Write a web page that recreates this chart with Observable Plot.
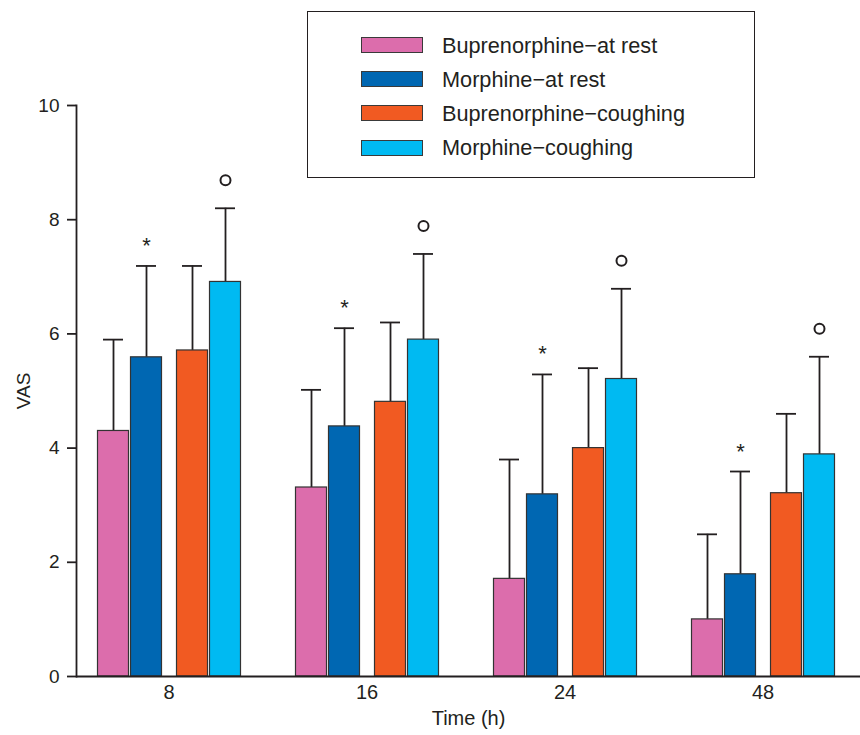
<!DOCTYPE html>
<html>
<head>
<meta charset="utf-8">
<script src="https://cdn.jsdelivr.net/npm/d3@7"></script>
<script src="https://cdn.jsdelivr.net/npm/@observablehq/plot@0.6"></script>
<style>
  body { margin: 0; background: #fff; font-family: "Liberation Sans", Arial, sans-serif; color: #231f20; }
  #wrap { position: relative; width: 860px; height: 735px; }
  #legend { position: absolute; left: 307px; top: 11px; width: 448px; height: 167px; box-sizing: border-box;
            border: 1.6px solid #231f20; background: #fff; }
  .row { position: absolute; left: 53px; height: 17px; display: flex; align-items: center; }
  .sw { width: 62px; height: 16px; box-sizing: border-box; border: 1.2px solid #3a3a3a; }
  .lab { margin-left: 19px; font-size: 21.7px; white-space: nowrap; line-height: 17px; }
</style>
</head>
<body>
<div id="wrap"></div>
<script>
// ---- data ----
const times = ["8", "16", "24", "48"];
const seriesNames = ["Buprenorphine\u2212at rest", "Morphine\u2212at rest", "Buprenorphine\u2212coughing", "Morphine\u2212coughing"];
const bupRestMean  = [4.30, 3.31, 1.71, 1.00];
const bupRestSD    = [1.60, 1.71, 2.09, 1.49];
const morRestMean  = [5.59, 4.38, 3.19, 1.79];
const morRestSD    = [1.60, 1.72, 2.10, 1.80];
const bupCoughMean = [5.71, 4.81, 4.00, 3.21];
const bupCoughSD   = [1.48, 1.39, 1.40, 1.39];
const morCoughMean = [6.91, 5.90, 5.21, 3.89];
const morCoughSD   = [1.29, 1.50, 1.58, 1.71];
const restSignif   = ["*", "*", "*", "*"];   // above Morphine−at rest
const coughSignif  = ["o", "o", "o", "o"];   // above Morphine−coughing
const yTicks = [0, 2, 4, 6, 8, 10];

// ---- styles ----
const colors = ["#DC6DAC", "#0067B2", "#F15A22", "#00BAF2"];
const shift = [-55.5, -22.5, 23.5, 56.5];
const ink = "#231f20";

const means = [bupRestMean, morRestMean, bupCoughMean, morCoughMean];
const sds = [bupRestSD, morRestSD, bupCoughSD, morCoughSD];
const rows = means.map((m, s) => times.map((t, i) => ({
  time: t, series: seriesNames[s], mean: m[i], top: m[i] + sds[s][i],
  star: restSignif[i], ring: coughSignif[i]
})));

const marks = [
  Plot.axisY({ticks: yTicks, tickSize: 9, tickPadding: 8, fontSize: 19, strokeWidth: 1.8, stroke: ink, fill: ink,
              label: "VAS", labelAnchor: "center", labelOffset: 60, labelArrow: "none"}),
  Plot.axisX({tickSize: 0, tickPadding: 8, fontSize: 20, fill: ink,
              label: "Time (h)", labelAnchor: "center", labelOffset: 48, labelArrow: "none"}),
  Plot.frame({anchor: "left", stroke: ink, strokeWidth: 1.8})
];
rows.forEach((r, s) => {
  marks.push(Plot.ruleX(r, {x: "time", y1: "mean", y2: "top", stroke: ink, strokeWidth: 1.8, dx: shift[s]}));
  marks.push(Plot.tickY(r, {x: "time", y: "top", stroke: ink, strokeWidth: 1.8, dx: shift[s], insetLeft: 5.5, insetRight: 5.5}));
  marks.push(Plot.barY(r, {x: "time", y: "mean", fill: colors[s], stroke: "#333", strokeWidth: 1.2, dx: shift[s]}));
});
marks.push(Plot.text(rows[1], {x: "time", y: "top", text: "star", dx: shift[1], dy: -20, fontSize: 22, fill: ink}));
marks.push(Plot.dot(rows[3].filter(d => d.ring === "o"), {x: "time", y: "top", r: 5, stroke: ink, strokeWidth: 2, fill: "white", dx: shift[3], dy: -28}));
marks.push(Plot.ruleY([0], {stroke: ink, strokeWidth: 1.8}));

const chart = Plot.plot({
  width: 860,
  height: 735,
  marginLeft: 76,
  marginRight: 0,
  marginTop: 105,
  marginBottom: 59,
  style: {fontFamily: "Liberation Sans, Arial, sans-serif", fontSize: "19px", color: ink, background: "white", overflow: "visible"},
  x: {domain: times, paddingInner: 0.8437, paddingOuter: 0.3987, align: 0.484},
  y: {domain: [0, 10]},
  marks
});
const wrap = document.getElementById("wrap");
wrap.appendChild(chart);

// legend
const leg = document.createElement("div");
leg.id = "legend";
seriesNames.forEach((n, i) => {
  const row = document.createElement("div");
  row.className = "row";
  row.style.top = (24.5 + i * 34.2) + "px";
  row.innerHTML = `<div class="sw" style="background:${colors[i]}"></div><div class="lab">${n}</div>`;
  leg.appendChild(row);
});
wrap.appendChild(leg);
</script>
</body>
</html>
